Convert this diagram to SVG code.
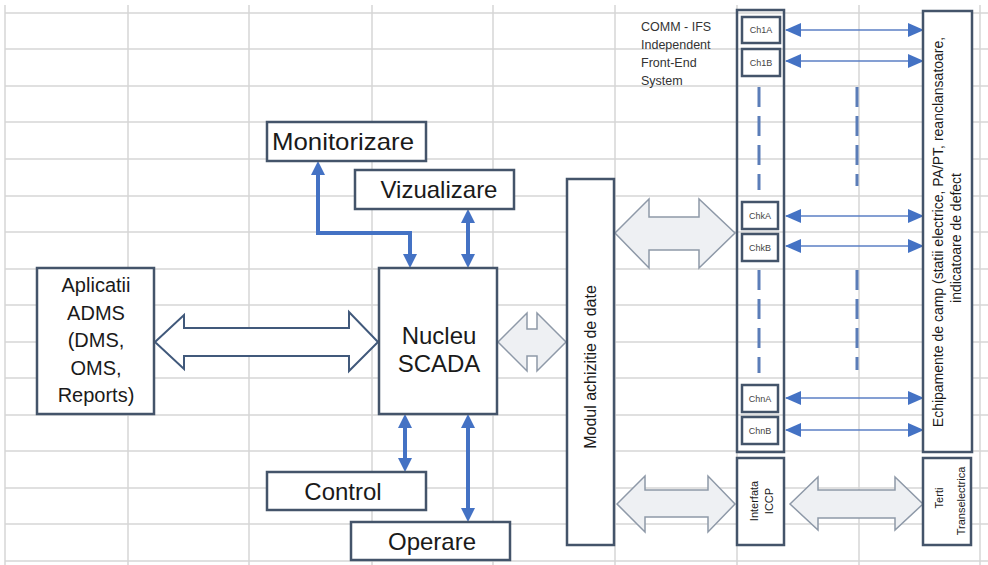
<svg xmlns="http://www.w3.org/2000/svg" width="988" height="565" viewBox="0 0 988 565">
<defs>
<style>
.grid line{stroke:#d6d6d6;stroke-width:1.5}
.box{fill:#fff;stroke:#44546a;stroke-width:2.5}
.ch{fill:#fff;stroke:#44546a;stroke-width:2.5}
.t{font-family:"Liberation Sans",Arial,sans-serif;fill:#1a1a1a}
.big{font-size:24px}
.mid{font-size:20px}
.sm{font-size:12.5px;fill:#333}
.tiny{font-size:9px;fill:#444}
.blue{fill:none;stroke:#4472c4;stroke-width:4}
.thin{fill:none;stroke:#5b7fc4;stroke-width:1.5}
.dash{fill:none;stroke:#5b7db8;stroke-width:3;stroke-dasharray:20 9}
.hollow{fill:#fff;stroke:#41597b;stroke-width:2}
.gray{fill:#eef0f3;stroke:#8e99a8;stroke-width:1.5}
</style>
<marker id="ah" markerUnits="userSpaceOnUse" markerWidth="14" markerHeight="14" viewBox="0 0 14 14" refX="5" refY="7" orient="auto-start-reverse">
<path d="M0,0 L14,7 L0,14 z" fill="#4472c4"/>
</marker>
<marker id="ahs" markerUnits="userSpaceOnUse" markerWidth="16" markerHeight="14" viewBox="0 0 16 14" refX="15" refY="7" orient="auto-start-reverse">
<path d="M0,0 L16,7 L0,14 z" fill="#4472c4"/>
</marker>
</defs>
<rect width="988" height="565" fill="#fff"/>
<g class="grid">
<line x1="5" y1="5" x2="5" y2="565"/><line x1="128" y1="5" x2="128" y2="565"/><line x1="249" y1="5" x2="249" y2="565"/><line x1="372" y1="5" x2="372" y2="565"/><line x1="493" y1="5" x2="493" y2="565"/><line x1="615" y1="5" x2="615" y2="565"/><line x1="737" y1="5" x2="737" y2="565"/><line x1="859" y1="5" x2="859" y2="565"/><line x1="980" y1="5" x2="980" y2="565"/>
<line x1="5" y1="13" x2="988" y2="13"/><line x1="5" y1="49" x2="988" y2="49"/><line x1="5" y1="86" x2="988" y2="86"/><line x1="5" y1="122" x2="988" y2="122"/><line x1="5" y1="159" x2="988" y2="159"/><line x1="5" y1="196" x2="988" y2="196"/><line x1="5" y1="232" x2="988" y2="232"/><line x1="5" y1="269" x2="988" y2="269"/><line x1="5" y1="305" x2="988" y2="305"/><line x1="5" y1="342" x2="988" y2="342"/><line x1="5" y1="378" x2="988" y2="378"/><line x1="5" y1="415" x2="988" y2="415"/><line x1="5" y1="451" x2="988" y2="451"/><line x1="5" y1="488" x2="988" y2="488"/><line x1="5" y1="524" x2="988" y2="524"/><line x1="5" y1="561" x2="988" y2="561"/>
</g>

<g id="connectors">
<polygon class="hollow" points="155,342 184,315 184,328 349,328 349,312 378,342 349,371 349,356 184,356 184,369"/>
<polygon class="gray" points="498,342 527,313 527,329 537,329 537,313 566,342 537,371 537,356 527,356 527,371"/>
<polygon class="gray" points="615,233 649,199 649,217 699,217 699,199 735,233 699,268 699,250 649,250 649,268"/>
<polygon class="gray" points="617,504 645,476 645,490 708,490 708,476 735,504 708,532 708,517 645,517 645,532"/>
<polygon class="gray" points="790,504 818,477 818,490 895,490 895,477 923,504 895,530 895,518 818,518 818,530"/>
<path class="blue" d="M410,259 V233 H318 V170" marker-start="url(#ah)" marker-end="url(#ah)"/>
<path class="blue" d="M468,218 V259" marker-start="url(#ah)" marker-end="url(#ah)"/>
<path class="blue" d="M405,423 V463" marker-start="url(#ah)" marker-end="url(#ah)"/>
<path class="blue" d="M468,423 V513" marker-start="url(#ah)" marker-end="url(#ah)"/>
<path class="thin" d="M786,30 H923" marker-start="url(#ahs)" marker-end="url(#ahs)"/>
<path class="thin" d="M786,61 H923" marker-start="url(#ahs)" marker-end="url(#ahs)"/>
<path class="thin" d="M786,216 H923" marker-start="url(#ahs)" marker-end="url(#ahs)"/>
<path class="thin" d="M786,246 H923" marker-start="url(#ahs)" marker-end="url(#ahs)"/>
<path class="thin" d="M786,398 H923" marker-start="url(#ahs)" marker-end="url(#ahs)"/>
<path class="thin" d="M786,430 H923" marker-start="url(#ahs)" marker-end="url(#ahs)"/>
<path class="dash" d="M759,87 V190 M759,270 V373 M857,87 V186 M857,270 V370"/>
</g>

<g id="monitorizare"><rect class="box" x="267" y="122" width="159" height="39"/><text class="t big" x="272" y="150" textLength="142" lengthAdjust="spacingAndGlyphs">Monitorizare</text></g>
<g id="vizualizare"><rect class="box" x="355" y="170" width="159" height="39"/><text class="t big" x="439" y="198" text-anchor="middle">Vizualizare</text></g>
<g id="nucleu"><rect class="box" x="379" y="268" width="118" height="146"/><text class="t big" x="439" y="344" text-anchor="middle">Nucleu</text><text class="t big" x="439" y="372" text-anchor="middle">SCADA</text></g>
<g id="control"><rect class="box" x="267" y="472" width="159" height="38"/><text class="t big" x="343" y="500" text-anchor="middle">Control</text></g>
<g id="operare"><rect class="box" x="351" y="522" width="159" height="38"/><text class="t big" x="432" y="550" text-anchor="middle">Operare</text></g>
<g id="aplicatii"><rect class="box" x="37" y="268" width="117" height="146"/>
<text class="t mid" x="96" text-anchor="middle"><tspan x="96" y="292">Aplicatii</tspan><tspan x="96" y="320">ADMS</tspan><tspan x="96" y="347">(DMS,</tspan><tspan x="96" y="375">OMS,</tspan><tspan x="96" y="402">Reports)</tspan></text></g>
<g id="modul"><rect class="box" x="567" y="179" width="47" height="366"/><text class="t" font-size="16" transform="translate(596,367) rotate(-90)" text-anchor="middle">Modul achizitie de date</text></g>
<g id="comm"><rect class="box" x="737" y="10" width="47" height="442" stroke-width="3" fill="none" style="fill:none"/>
<text class="t sm"><tspan x="641" y="31">COMM - IFS</tspan><tspan x="641" y="49">Independent</tspan><tspan x="641" y="67">Front-End</tspan><tspan x="641" y="85">System</tspan></text></g>
<g id="ch1a"><rect class="ch" x="742" y="17" width="38" height="26"/><text class="t tiny" x="761" y="33" text-anchor="middle">Ch1A</text></g>
<g id="ch1b"><rect class="ch" x="742" y="49" width="38" height="27"/><text class="t tiny" x="761" y="66" text-anchor="middle">Ch1B</text></g>
<g id="chka"><rect class="ch" x="742" y="202" width="36" height="27"/><text class="t tiny" x="760" y="219" text-anchor="middle">ChkA</text></g>
<g id="chkb"><rect class="ch" x="742" y="234" width="36" height="27"/><text class="t tiny" x="760" y="251" text-anchor="middle">ChkB</text></g>
<g id="chna"><rect class="ch" x="742" y="385" width="36" height="27"/><text class="t tiny" x="760" y="402" text-anchor="middle">ChnA</text></g>
<g id="chnb"><rect class="ch" x="742" y="417" width="36" height="27"/><text class="t tiny" x="760" y="434" text-anchor="middle">ChnB</text></g>
<g id="echipamente"><rect class="box" x="923" y="11" width="49" height="441"/>
<text class="t" font-size="14" transform="translate(943,232) rotate(-90)" text-anchor="middle">Echipamente de camp (statii electrice, PA/PT, reanclansatoare,</text>
<text class="t" font-size="14" transform="translate(961,238) rotate(-90)" text-anchor="middle">indicatoare de defect</text></g>
<g id="iccp"><rect class="box" x="737" y="458" width="47" height="87"/>
<text class="t" font-size="11" transform="translate(758,501) rotate(-90)" text-anchor="middle">Interfata</text>
<text class="t" font-size="11" transform="translate(773,501) rotate(-90)" text-anchor="middle">ICCP</text></g>
<g id="terti"><rect class="box" x="923" y="458" width="48" height="87"/>
<text class="t" font-size="11" transform="translate(943,498) rotate(-90)" text-anchor="middle">Terti</text>
<text class="t" font-size="11" transform="translate(965,501) rotate(-90)" text-anchor="middle">Transelectrica</text></g>
</svg>
